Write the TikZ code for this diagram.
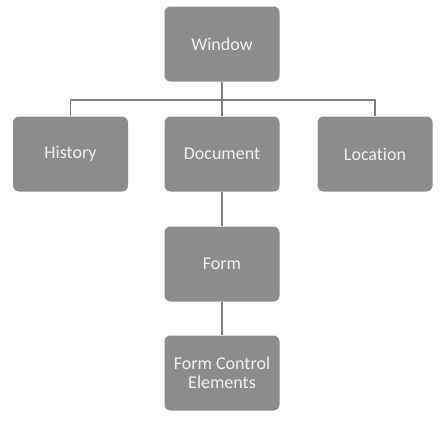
\documentclass[tikz,border=0pt]{standalone}
\usepackage{fontspec}
\setmainfont{Carlito}[Ligatures={NoCommon}]
\definecolor{boxgray}{RGB}{140,140,140}
\definecolor{linegray}{RGB}{128,128,128}
\definecolor{textgray}{RGB}{240,240,240}

\begin{document}
\begin{tikzpicture}[x=1pt,y=-1pt,
	box/.style={rectangle,rounded corners=6pt,fill=boxgray,text=textgray,
		minimum width=115pt,minimum height=75pt,align=center,
		font=\fontsize{18}{19}\selectfont},
	link/.style={draw=linegray,line width=1.3pt}]
	\useasboundingbox (0,0) rectangle (446,429);

	\node[box] (win)  at (222, 44)   {Window};
	\node[box] (hist) at (70.5, 154) {History};
	\node[box] (doc)  at (222, 154)  {Document};
	\node[box] (loc)  at (375, 154)  {Location};
	\node[box] (form) at (222, 264)  {Form};
	\node[box] (fce)  at (222, 373)  {Form Control\\Elements};
	\coordinate (bar) at (222, 100);

	\path[link] (hist.north) -- (hist.north |- bar) -- (loc.north |- bar) -- (loc.north);
	\path[link] (win.south) -- (doc.north);
	\path[link] (doc.south) -- (form.north);
	\path[link] (form.south) -- (fce.north);
\end{tikzpicture}
\end{document}
